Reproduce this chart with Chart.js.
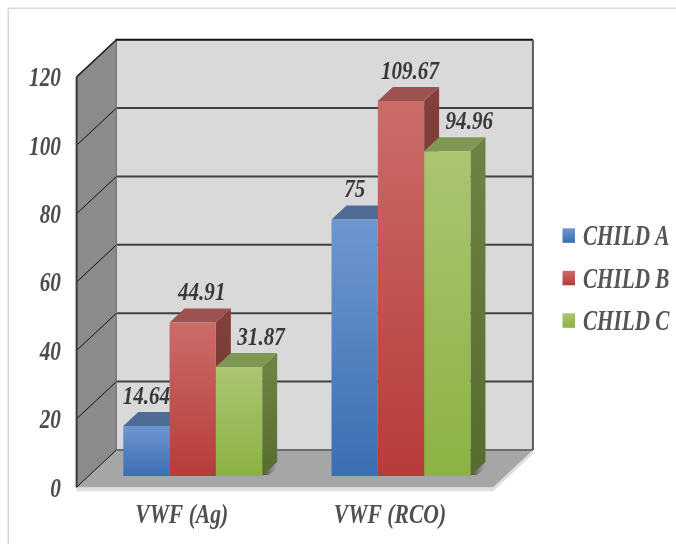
<!DOCTYPE html>
<html>
<head>
<meta charset="utf-8">
<script src="https://cdn.jsdelivr.net/npm/chart.js@4/dist/chart.umd.min.js"></script>
<style>
  html, body { margin: 0; padding: 0; background: #ffffff; }
  #wrap { width: 676px; height: 544px; position: relative; }
</style>
</head>
<body>
<div id="wrap"><canvas id="c" width="676" height="544"></canvas></div>
<script>
// Values per category
const categories = ['VWF (Ag)', 'VWF (RCO)'];
const seriesNames = ['CHILD A', 'CHILD B', 'CHILD C'];
const childA = [14.64, 75];
const childB = [44.91, 109.67];
const childC = [31.87, 94.96];
const yTicks = [0, 20, 40, 60, 80, 100, 120];

// Colours: front gradient top/bottom, top face, side face top/bottom
const palette = [
  { top: '#6e97d0', bottom: '#3b6eb2', lid: '#4f6c95', side: '#3f5f8c', sideLow: '#2f4c75' },
  { top: '#cb6c69', bottom: '#b73c39', lid: '#9b5250', side: '#823f3c', sideLow: '#6e302d' },
  { top: '#aac671', bottom: '#8cb244', lid: '#7e9854', side: '#6b8343', sideLow: '#566c2f' }
];
const labelShift = [0, 9, 22];

// Oblique depth projection: t units of depth move right and up
function proj(x, y, t) { return [x + 1.07 * t, y - t]; }
const BACK = 26, FRONT = -11.2, BAR_DEPTH = 14;

function poly(ctx, pts, fill, stroke, lw) {
  ctx.beginPath();
  ctx.moveTo(pts[0][0], pts[0][1]);
  for (let i = 1; i < pts.length; i++) ctx.lineTo(pts[i][0], pts[i][1]);
  ctx.closePath();
  if (fill) { ctx.fillStyle = fill; ctx.fill(); }
  if (stroke) { ctx.strokeStyle = stroke; ctx.lineWidth = lw || 1; ctx.stroke(); }
}
function line(ctx, a, b, color, lw) {
  ctx.beginPath();
  ctx.moveTo(a[0], a[1]);
  ctx.lineTo(b[0], b[1]);
  ctx.strokeStyle = color;
  ctx.lineWidth = lw;
  ctx.stroke();
}
// Condensed bold italic serif text, positioned by the centre of its capitals
function label(ctx, text, x, yMid, size, hs, align, color) {
  ctx.save();
  ctx.translate(x, yMid + size * 0.335);
  ctx.scale(hs, 1);
  ctx.font = 'italic bold ' + size + 'px "Liberation Serif"';
  ctx.textAlign = align;
  ctx.textBaseline = 'alphabetic';
  ctx.fillStyle = color;
  ctx.fillText(text, 0, 0);
  ctx.restore();
}

const roomPlugin = {
  id: 'room',
  beforeDatasetsDraw(chart) {
    const ctx = chart.ctx;
    const ys = chart.scales.y;
    const L = chart.chartArea.left, R = chart.chartArea.right;
    const yTop = ys.getPixelForValue(120), yBase = ys.getPixelForValue(0);
    ctx.save();

    // frame
    ctx.strokeStyle = '#d9d9d9';
    ctx.lineWidth = 1.5;
    ctx.beginPath();
    ctx.moveTo(8.25, 544); ctx.lineTo(8.25, 8.25); ctx.lineTo(676, 8.25);
    ctx.stroke();

    // back wall
    const b1 = proj(L, yTop, BACK), b2 = proj(R, yTop, BACK), b3 = proj(R, yBase, BACK), b4 = proj(L, yBase, BACK);
    poly(ctx, [b1, b2, b3, b4], '#d9d9d9');

    // floor slab edge and floor
    const f1 = proj(L, yBase, FRONT), f2 = proj(R, yBase, FRONT);
    poly(ctx, [f1, f2, b3, [b3[0], b3[1] + 4], [f2[0], f2[1] + 4], [f1[0], f1[1] + 4]], '#dedede');
    poly(ctx, [f1, f2, b3, b4], '#a6a6a6');

    // left wall
    const l1 = proj(L, yTop, FRONT);
    poly(ctx, [l1, b1, b4, f1], '#8b8b8b');

    // gridlines on the back wall
    yTicks.forEach(v => {
      const y = ys.getPixelForValue(v);
      if (v > 0 && v < 120) {
        line(ctx, proj(L, y, BACK), proj(R, y, BACK), '#404040', 2);
      }
    });
    line(ctx, b4, b3, '#6e6e6e', 2);

    // gridlines on the left wall
    yTicks.forEach(v => {
      const y = ys.getPixelForValue(v);
      line(ctx, proj(L, y, FRONT), proj(L, y, BACK), '#111111', 1);
    });
    line(ctx, b1, b4, '#6f6f6f', 1);

    // edges
    line(ctx, [b1[0] - 1, b1[1]], b2, '#111111', 2);
    line(ctx, b2, b3, '#5a5a5a', 2);
    line(ctx, l1, b1, '#222222', 1.5);
    line(ctx, [l1[0], l1[1]], [f1[0], f1[1]], '#3a3a3a', 2);

    // soft shadows on the floor beside each group
    const metas = [0, 1, 2].map(i => chart.getDatasetMeta(i));
    const last = metas[2].data;
    last.forEach(el => {
      const xr = el.x + el.width / 2;
      const g = ctx.createLinearGradient(xr, 0, xr + 14, 0);
      g.addColorStop(0, 'rgba(40,40,40,0.75)');
      g.addColorStop(1, 'rgba(40,40,40,0)');
      ctx.fillStyle = g;
      const p = proj(xr, el.base, BAR_DEPTH);
      ctx.beginPath();
      ctx.moveTo(xr, el.base - 1);
      ctx.lineTo(p[0], p[1]);
      ctx.lineTo(p[0] + 10, p[1] + 1);
      ctx.lineTo(xr + 6, el.base - 1);
      ctx.closePath();
      ctx.fill();
    });

    // tops and sides of the bars, left to right
    const bars = [];
    metas.forEach((m, i) => m.data.forEach(el => bars.push({ el, i })));
    bars.sort((a, b) => a.el.x - b.el.x);
    bars.forEach(({ el, i }) => {
      const c = palette[i];
      const xl = el.x - el.width / 2, xr = el.x + el.width / 2;
      const yt = el.y, yb = el.base;
      const sg = ctx.createLinearGradient(0, yt, 0, yb);
      sg.addColorStop(0, c.side);
      sg.addColorStop(1, c.sideLow);
      poly(ctx, [[xr, yt], proj(xr, yt, BAR_DEPTH), proj(xr, yb, BAR_DEPTH), [xr, yb]], sg);
      poly(ctx, [[xl, yt], proj(xl, yt, BAR_DEPTH), proj(xr, yt, BAR_DEPTH), [xr, yt]], c.lid);
    });
    ctx.restore();
  },
  afterDatasetsDraw(chart) {
    const ctx = chart.ctx;
    const ys = chart.scales.y, xs = chart.scales.x;

    // value labels
    chart.data.datasets.forEach((ds, i) => {
      chart.getDatasetMeta(i).data.forEach((el, j) => {
        label(ctx, String(ds.data[j]), el.x + labelShift[i], el.y - 30.8, 26, 0.81, 'center', '#383838');
      });
    });

    // value axis on the front edge of the left wall
    yTicks.forEach(v => {
      const y = ys.getPixelForValue(v) - FRONT;
      label(ctx, String(v), 61, y, 28, 0.76, 'right', '#4d4d4d');
    });

    // category labels
    categories.forEach((c, j) => {
      label(ctx, c, xs.getPixelForValue(j) - 11, 514, 27, 0.8, 'center', '#505050');
    });

    // legend
    chart.data.datasets.forEach((ds, i) => {
      const cy = 235.5 + 42.5 * i;
      const g = ctx.createLinearGradient(0, cy - 7, 0, cy + 7);
      g.addColorStop(0, palette[i].top);
      g.addColorStop(1, palette[i].bottom);
      ctx.fillStyle = g;
      ctx.fillRect(562.5, cy - 7.2, 12.5, 14.5);
      label(ctx, ds.label, 583, cy, 29, 0.73, 'left', '#555555');
    });
  }
};

function frontFill(i) {
  return (context) => {
    const chart = context.chart;
    const c = palette[i];
    if (!chart.chartArea || context.type !== 'data') return c.bottom;
    const ys = chart.scales.y;
    const yt = ys.getPixelForValue(context.raw);
    const yb = ys.getPixelForValue(0);
    const g = chart.ctx.createLinearGradient(0, yt, 0, yb);
    g.addColorStop(0, c.top);
    g.addColorStop(1, c.bottom);
    return g;
  };
}

const seriesValues = [childA, childB, childC];
new Chart(document.getElementById('c'), {
  type: 'bar',
  data: {
    labels: categories,
    datasets: seriesValues.map((vals, i) => ({
      label: seriesNames[i],
      data: vals,
      backgroundColor: frontFill(i),
      borderWidth: 0,
      categoryPercentage: 0.667,
      barPercentage: 1.0
    }))
  },
  options: {
    responsive: false,
    animation: false,
    events: [],
    layout: { padding: { left: 88.6, right: 170.9, top: 65.7, bottom: 68 } },
    plugins: { legend: { display: false }, tooltip: { enabled: false } },
    scales: {
      x: { type: 'category', display: false, offset: true },
      y: { type: 'linear', display: false, min: 0, max: 120 }
    }
  },
  plugins: [roomPlugin]
});
</script>
</body>
</html>
